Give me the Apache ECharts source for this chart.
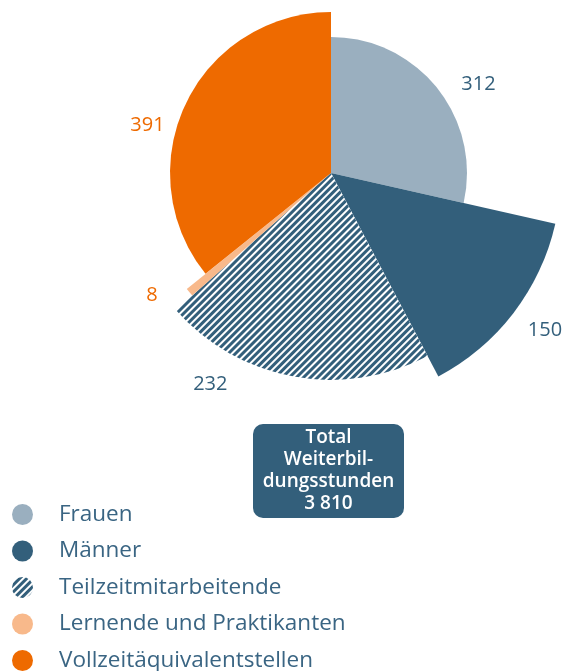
<!DOCTYPE html>
<html>
<head>
<meta charset="utf-8">
<script src="https://cdn.jsdelivr.net/npm/echarts@6/dist/echarts.min.js"></script>
<style>
  html, body { margin: 0; padding: 0; background: #fff; }
  #chart { width: 564px; height: 671px; }
</style>
</head>
<body>
<div id="chart"></div>
<script>
// data
var categories = ["Frauen", "Männer", "Teilzeitmitarbeitende", "Lernende und Praktikanten", "Vollzeitäquivalentstellen"];
var values = [312, 150, 232, 8, 391];
var totalText = "Total\nWeiterbil-\ndungsstunden\n3 810";

// look
var colors = ["#9aafbf", "#335f7b", "#ffffff", "#f8b98b", "#ee6a00"];
var labelColors = ["#335f7b", "#335f7b", "#335f7b", "#ee6a00", "#ee6a00"];
var outerRadius = [136, 230, 207, 185, 161];
// small nudges of the value labels
var labelShift = [[-3, 7], [-13, 6], [-50, -10], [-5, -8], [8, 30]];
var font = "'Open Sans', sans-serif";

var myChart = echarts.init(document.getElementById("chart"));

var sum = values.reduce(function (a, b) { return a + b; }, 0);
var cum = 0;
var series = categories.map(function (name, i) {
  var start = 90 - cum / sum * 360;
  cum += values[i];
  var item = {
    name: name,
    value: values[i],
    itemStyle: { color: colors[i] },
    label: { color: labelColors[i] }
  };
  if (i === 2) {
    item.itemStyle.decal = {
      symbol: "rect",
      symbolSize: 1,
      color: "#335f7b",
      dashArrayX: [1, 0],
      dashArrayY: [2.2, 2],
      rotation: -Math.PI / 4
    };
  }
  return {
    type: "pie",
    center: [331, 173],
    radius: [0, outerRadius[i]],
    startAngle: start,
    clockwise: true,
    avoidLabelOverlap: false,
    animation: false,
    label: {
      show: true,
      position: "outside",
      fontSize: 20,
      fontFamily: font,
      formatter: "{c}"
    },
    labelLine: { show: false, length: 18, length2: 8 },
    labelLayout: { dx: labelShift[i][0], dy: labelShift[i][1] },
    emphasis: { disabled: true },
    data: [
      item,
      {
        name: "",
        value: sum - values[i],
        itemStyle: { color: "rgba(0,0,0,0)" },
        label: { show: false },
        tooltip: { show: false }
      }
    ]
  };
});

var option = {
  legend: {
    orient: "vertical",
    left: 12,
    top: 503,
    height: 200,
    padding: 0,
    icon: "circle",
    itemWidth: 21,
    itemHeight: 21,
    itemGap: 13.5,
    data: categories,
    textStyle: {
      fontSize: 22.5,
      fontFamily: font,
      color: "#3a6583",
      padding: [0, 0, 0, 21]
    }
  },
  graphic: [
    {
      type: "rect",
      shape: { x: 253, y: 424, width: 151, height: 94, r: 10 },
      style: { fill: "#335f7b" }
    },
    {
      type: "text",
      x: 328.5,
      y: 471,
      style: {
        text: totalText,
        fill: "#fff",
        font: "600 19px " + font,
        lineHeight: 22,
        align: "center",
        verticalAlign: "middle"
      }
    }
  ],
  series: series
};

myChart.setOption(option);
</script>
</body>
</html>
